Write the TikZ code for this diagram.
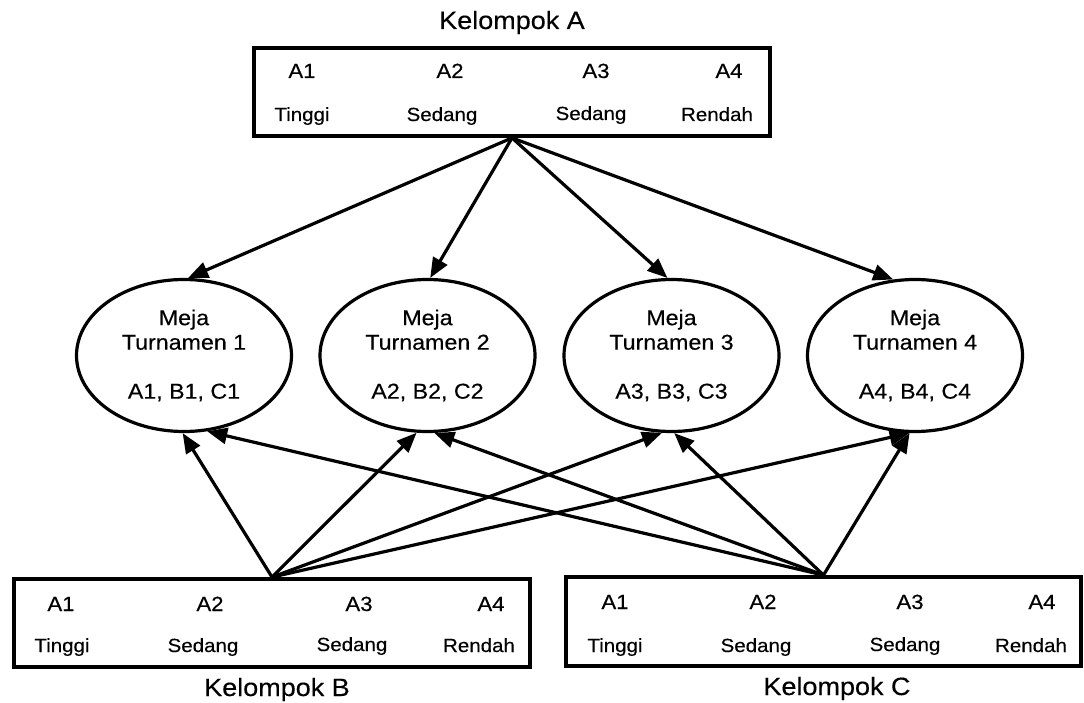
\documentclass[tikz,border=0pt]{standalone}
\usepackage{fontspec}
\setmainfont{Liberation Sans}[FakeStretch=1.08,FakeBold=0.35]
\usetikzlibrary{shapes.geometric,arrows.meta}
\begin{document}
\begin{tikzpicture}[x=1pt,y=-1pt,
  grpbox/.style={draw, rectangle, line width=3.8pt, inner sep=0pt},
  meja/.style={draw, ellipse, line width=3.2pt, inner sep=0pt, align=center,
    minimum width=215pt, minimum height=152pt, font=\fontsize{21.5}{24.5}\selectfont},
  lab/.style={anchor=base, inner sep=0pt, font=\fontsize{20.5}{22}\selectfont},
  lvl/.style={anchor=base, inner sep=0pt, font=\fontsize{19}{22}\selectfont},
  ttl/.style={anchor=base, inner sep=0pt, font=\fontsize{25}{28}\selectfont},
  arr/.style={-{Triangle[length=20pt,width=16pt]}, line width=3.2pt},
]
\useasboundingbox (0,0) rectangle (1084,703);

% group boxes
\node[grpbox, minimum width=516pt, minimum height=88pt] (ga) at (512,92) {};
\node[grpbox, minimum width=516pt, minimum height=88pt] (gb) at (272,623) {};
\node[grpbox, minimum width=515pt, minimum height=89pt] (gc) at (823.5,621.5) {};

% titles
\node[ttl] (ta) at (512,29) {Kelompok A};
\node[ttl] (tb) at (277,696) {Kelompok B};
\node[ttl] (tc) at (837,695) {Kelompok C};

% box A texts
\node[lab] (a1) at (302,78) {A1};
\node[lab] (a2) at (450,78) {A2};
\node[lab] (a3) at (596,78) {A3};
\node[lab] (a4) at (729,78) {A4};
\node[lvl] (a1l) at (302,121) {Tinggi};
\node[lvl] (a2l) at (442,121) {Sedang};
\node[lvl] (a3l) at (591,120) {Sedang};
\node[lvl] (a4l) at (717,121) {Rendah};

% box B texts
\node[lab] (b1) at (61,611) {A1};
\node[lab] (b2) at (210,611) {A2};
\node[lab] (b3) at (359,611) {A3};
\node[lab] (b4) at (491,611) {A4};
\node[lvl] (b1l) at (62,652) {Tinggi};
\node[lvl] (b2l) at (203,652) {Sedang};
\node[lvl] (b3l) at (352,651) {Sedang};
\node[lvl] (b4l) at (479,652) {Rendah};

% box C texts
\node[lab] (c1) at (615,609) {A1};
\node[lab] (c2) at (763,609) {A2};
\node[lab] (c3) at (910,609) {A3};
\node[lab] (c4) at (1042,609) {A4};
\node[lvl] (c1l) at (615,652) {Tinggi};
\node[lvl] (c2l) at (756,652) {Sedang};
\node[lvl] (c3l) at (905,651) {Sedang};
\node[lvl] (c4l) at (1031,652) {Rendah};

% tables
\node[meja] (e1) at (184,355.5) {Meja\\Turnamen 1\\[24.5pt]A1, B1, C1};
\node[meja] (e2) at (427.5,355.5) {Meja\\Turnamen 2\\[24.5pt]A2, B2, C2};
\node[meja] (e3) at (671.5,355.5) {Meja\\Turnamen 3\\[24.5pt]A3, B3, C3};
\node[meja] (e4) at (915,355.5) {Meja\\Turnamen 4\\[24.5pt]A4, B4, C4};

% connectors from A
\draw[arr] (ga.south) -- (e1.87);
\draw[arr] (ga.south) -- (e2.88);
\draw[arr] (ga.south) -- (e3.93);
\draw[arr] (ga.south) -- (e4.106);

% connectors from B
\draw[arr] (gb.north) -- (e1.269);
\draw[arr] (gb.north) -- (e2.262);
\draw[arr] (gb.north) -- (e3.263);
\draw[arr] (gb.north) -- (e4.266);

% connectors from C
\draw[arr] (gc.north) -- (e1.287);
\draw[arr] (gc.north) -- (e2.275);
\draw[arr] (gc.north) -- (e3.272);
\draw[arr] (gc.north) -- (e4.266);
\end{tikzpicture}
\end{document}
